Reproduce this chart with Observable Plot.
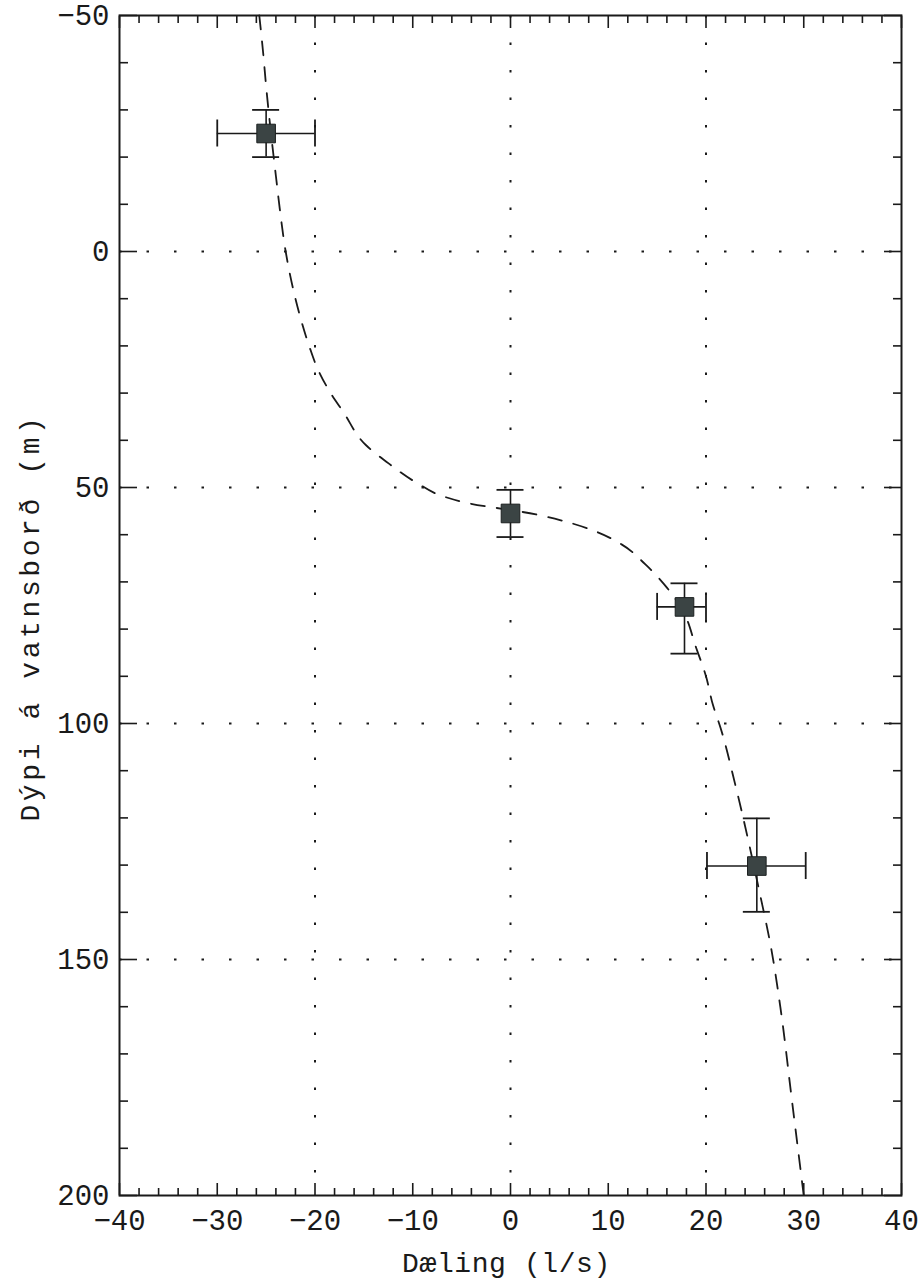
<!DOCTYPE html>
<html><head><meta charset="utf-8">
<script src="https://cdn.jsdelivr.net/npm/d3@7"></script>
<script src="https://cdn.jsdelivr.net/npm/@observablehq/plot@0.6"></script>
<style>body{margin:0;background:#fff}</style>
</head><body><div id="chart"></div>
<script>
// Fitted curve (depth y, pumping x)
const curveY = [-50, -42, -35, -25, -16, -9, 0, 10, 20, 25, 30, 34, 41, 45, 49, 52, 53.2, 55.7, 57.2, 59.3, 62.1, 66.3, 71.2, 76, 84, 90, 96, 101, 113, 135, 148, 160, 180, 200];
const curveX = [-25.7, -25.3, -25.0, -24.5, -24.0, -23.6, -23.0, -22.0, -20.6, -19.7, -18.4, -17.1, -14.8, -12.4, -9.6, -6.7, -4.6, 2.6, 5.6, 8.7, 11.4, 13.8, 16.0, 17.6, 19.0, 20.0, 20.7, 21.5, 23.0, 25.4, 26.7, 27.6, 28.8, 30.0];

// Measured points with error bars
const ptX  = [-25, 0, 17.8, 25.2];
const ptY  = [-25, 55.5, 75.3, 130.2];
const xLo  = [-30, null, 15.0, 20.1];
const xHi  = [-20, null, 20.0, 30.2];
const yLo  = [-30, 50.5, 70.3, 120.1];
const yHi  = [-20, 60.5, 85.2, 139.9];

// Ticks and grid
const xMajor = [-40, -30, -20, -10, 0, 10, 20, 30, 40];
const xMinor = [-38, -36, -34, -32, -28, -26, -24, -22, -18, -16, -14, -12, -8, -6, -4, -2, 2, 4, 6, 8, 12, 14, 16, 18, 22, 24, 26, 28, 32, 34, 36, 38];
const yMajor = [-50, 0, 50, 100, 150, 200];
const yMinor = [-40, -30, -20, -10, 10, 20, 30, 40, 60, 70, 80, 90, 110, 120, 130, 140, 160, 170, 180, 190];
const xGrid = [-20, 0, 20];
const yGrid = [0, 50, 100, 150];

const xTitle = "Dæling (l/s)";
const yTitle = "Dýpi á vatnsborð (m)";

const curve = curveY.map((y, i) => ({x: curveX[i], y}));
const pts = ptX.map((x, i) => ({x, y: ptY[i], xlo: xLo[i], xhi: xHi[i], ylo: yLo[i], yhi: yHi[i]}));
const ptsX = pts.filter(d => d.xlo != null);

const fmt = d => d < 0 ? "\u2212" + (-d) : String(d);
const blank = () => "";
const ink = "#1a1a1a";
const font = "Liberation Mono, DejaVu Sans Mono, monospace";
const cap = 13.5;

const chart = Plot.plot({
  width: 922,
  height: 1284,
  marginTop: 15,
  marginBottom: 89,
  marginLeft: 119,
  marginRight: 21,
  x: {domain: [-40, 40]},
  y: {domain: [-50, 200], reverse: true},
  style: {fontFamily: font, background: "#fff", color: ink},
  marks: [
    Plot.gridX(xGrid, {stroke: ink, strokeOpacity: 1, strokeWidth: 2, strokeDasharray: "2.5,25"}),
    Plot.gridY(yGrid, {stroke: ink, strokeOpacity: 1, strokeWidth: 2, strokeDasharray: "2.5,25"}),
    Plot.axisX(xMajor, {anchor: "bottom", tickSize: -12, tickPadding: 26, tickFormat: fmt, fontSize: 29, label: null, strokeWidth: 1.6}),
    Plot.axisX(xMinor, {anchor: "bottom", tickSize: -7, tickFormat: blank, label: null, strokeWidth: 1.6}),
    Plot.axisX(xMajor, {anchor: "top", tickSize: -12, tickFormat: blank, label: null, strokeWidth: 1.6}),
    Plot.axisX(xMinor, {anchor: "top", tickSize: -7, tickFormat: blank, label: null, strokeWidth: 1.6}),
    Plot.axisY(yMajor, {anchor: "left", tickSize: -18, tickPadding: 28, tickFormat: fmt, fontSize: 29, label: null, strokeWidth: 1.6}),
    Plot.axisY(yMinor, {anchor: "left", tickSize: -9, tickFormat: blank, label: null, strokeWidth: 1.6}),
    Plot.axisY(yMajor, {anchor: "right", tickSize: -18, tickFormat: blank, label: null, strokeWidth: 1.6}),
    Plot.axisY(yMinor, {anchor: "right", tickSize: -9, tickFormat: blank, label: null, strokeWidth: 1.6}),
    Plot.line(curve, {x: "x", y: "y", curve: "monotone-y", stroke: ink, strokeWidth: 1.8, strokeDasharray: "14,12"}),
    Plot.ruleY(ptsX, {y: "y", x1: "xlo", x2: "xhi", stroke: ink, strokeWidth: 1.6}),
    Plot.ruleX(ptsX, {x: "xlo", y1: "y", y2: "y", insetTop: -cap, insetBottom: -cap, stroke: ink, strokeWidth: 1.8}),
    Plot.ruleX(ptsX, {x: "xhi", y1: "y", y2: "y", insetTop: -cap, insetBottom: -cap, stroke: ink, strokeWidth: 1.8}),
    Plot.ruleX(pts, {x: "x", y1: "ylo", y2: "yhi", stroke: ink, strokeWidth: 1.6}),
    Plot.ruleY(pts, {y: "ylo", x1: "x", x2: "x", insetLeft: -cap, insetRight: -cap, stroke: ink, strokeWidth: 1.8}),
    Plot.ruleY(pts, {y: "yhi", x1: "x", x2: "x", insetLeft: -cap, insetRight: -cap, stroke: ink, strokeWidth: 1.8}),
    Plot.dot(pts, {x: "x", y: "y", symbol: "square", r: 10.5, fill: "#3b4444", stroke: "#1c2020", strokeWidth: 1}),
    Plot.frame({stroke: ink, strokeWidth: 2}),
    Plot.text([xTitle], {text: d => d, frameAnchor: "bottom", textAnchor: "middle", dx: -4, dy: 68, fontSize: 28, fill: ink, lineAnchor: "middle"}),
    Plot.text([yTitle], {text: d => d, frameAnchor: "left", textAnchor: "middle", dx: -89, dy: 12, rotate: -90, fontSize: 28, fill: ink, lineAnchor: "middle"})
  ]
});
// widen letter spacing of the vertical title to match the reference's spread
chart.querySelectorAll("text").forEach(t => {
  if (t.textContent === yTitle) t.style.letterSpacing = "3.6px";
  if (t.textContent === xTitle) t.style.letterSpacing = "0.6px";
});
document.getElementById("chart").appendChild(chart);
</script>
</body></html>
